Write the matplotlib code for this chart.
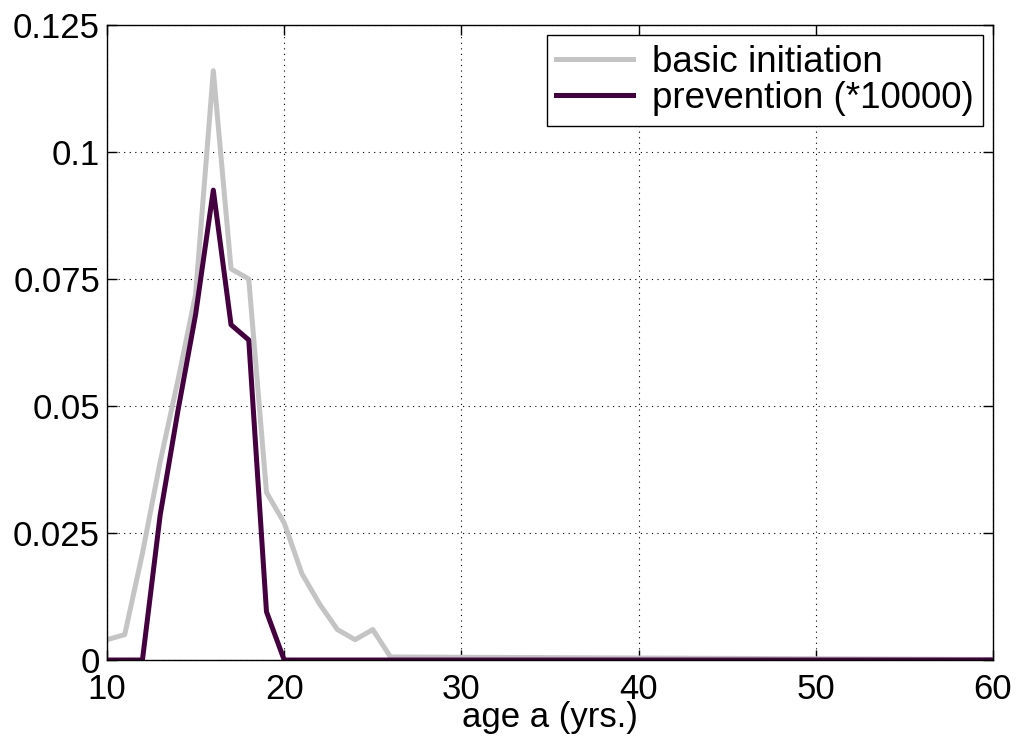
import numpy as np
import matplotlib.pyplot as plt

plt.rcParams['font.family'] = ['Liberation Sans', 'DejaVu Sans']
plt.rcParams['font.size'] = 25

age = np.arange(10, 61)

basic_head = [0.004, 0.005, 0.021, 0.039, 0.055, 0.072, 0.116, 0.077, 0.075,
              0.033, 0.027, 0.017, 0.011, 0.006, 0.004, 0.006]
basic_tail = list(np.linspace(0.0006, 0.0001, len(age) - len(basic_head)))
basic = np.array(basic_head + basic_tail)

prev_head = [0, 0, 0, 0.0285, 0.049, 0.068, 0.0925, 0.066, 0.063, 0.0095, 0]
prevention = np.array(prev_head + [0] * (len(age) - len(prev_head)))

fig = plt.figure(figsize=(10.19, 7.49), dpi=100)
ax = fig.add_axes([0.105, 0.1188, 0.8695, 0.8478])

ax.plot(age, basic, color='#c4c4c4', lw=3.6, label='basic initiation')
ax.plot(age, prevention, color='#44003f', lw=3.6, label='prevention (*10000)')

ax.set_xlim(10, 60)
ax.set_ylim(0, 0.125)
ax.set_xticks([10, 20, 30, 40, 50, 60])
ax.set_yticks([0, 0.025, 0.05, 0.075, 0.1, 0.125])
ax.set_yticklabels(['0', '0.025', '0.05', '0.075', '0.1', '0.125'])
ax.grid(True, color='black', ls=(0, (1, 4)), lw=0.8)
ax.tick_params(direction='in', top=True, right=True, length=7, width=1)
ax.tick_params(axis='x', pad=9)
ax.tick_params(axis='y', pad=5)
for s in ax.spines.values():
    s.set_linewidth(1)
ax.set_xlabel('age a (yrs.)', labelpad=-3)

leg = ax.legend(loc='upper right', fancybox=False, framealpha=1,
                edgecolor='black', fontsize=26.5, handlelength=2.1,
                handletextpad=0.5, borderpad=0.25, labelspacing=0.05,
                borderaxespad=0.28)
leg.get_frame().set_linewidth(1)

fig.savefig('out.png', dpi=100)
